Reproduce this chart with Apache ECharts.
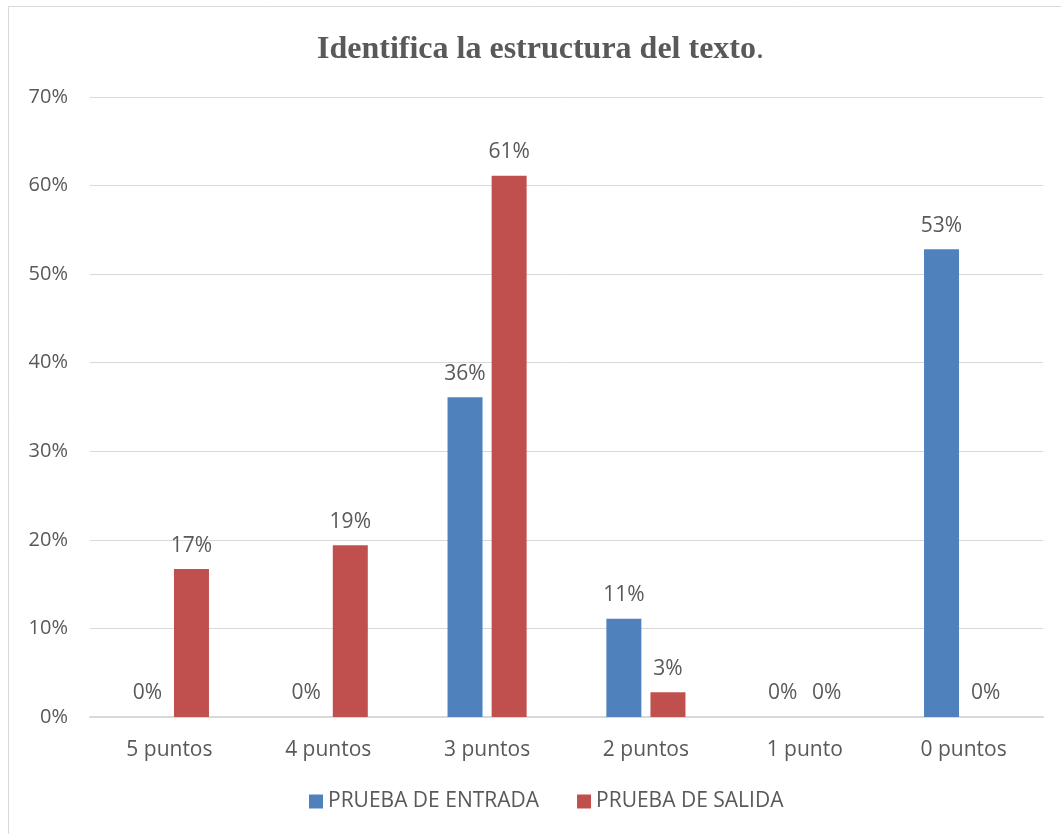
<!DOCTYPE html>
<html>
<head>
    <meta charset="UTF-8">
    <title>Identifica la estructura del texto</title>
    <script src="https://cdn.jsdelivr.net/npm/echarts@6/dist/echarts.min.js"></script>
    <style>
        body { margin: 0; background: #fff; }
    </style>
</head>
<body>
    <div id="main" style="width: 1061px;height:834px;"></div>
    <script type="text/javascript">
        // categorías y valores (%)
        var categorias = ['5 puntos', '4 puntos', '3 puntos', '2 puntos', '1 punto', '0 puntos'];
        var entrada = [0, 0, 36.1, 11.1, 0, 52.8];
        var salida = [16.7, 19.4, 61.1, 2.8, 0, 0];
        var nombres = ['PRUEBA DE ENTRADA', 'PRUEBA DE SALIDA'];

        var myChart = echarts.init(document.getElementById('main'));
        var textColor = '#595959';
        var fuente = '"Open Sans", "Noto Sans", sans-serif';
        var serif = '"Liberation Serif", "DejaVu Serif", serif';

        var etiqueta = {
            show: true,
            position: 'top',
            distance: 13,
            color: textColor,
            fontSize: 21,
            fontFamily: fuente,
            formatter: function (p) { return Math.round(p.value) + '%'; }
        };

        var option = {
            animation: false,
            title: {
                text: '{b|Identifica la estructura del texto}{n|.}',
                left: 312,
                top: 29,
                textStyle: {
                    rich: {
                        b: { fontFamily: serif, fontWeight: 'bold', fontSize: 32, color: textColor },
                        n: { fontFamily: serif, fontWeight: 'normal', fontSize: 32, color: textColor }
                    }
                }
            },
            graphic: [{
                type: 'rect',
                shape: { x: 8.5, y: 6.5, width: 1070, height: 840 },
                style: { fill: 'none', stroke: '#d9d9d9', lineWidth: 1 }
            }],
            legend: {
                bottom: 17,
                left: 304,
                itemWidth: 14,
                itemHeight: 14,
                itemGap: 38,
                icon: 'rect',
                textStyle: { color: textColor, fontSize: 21, fontFamily: fuente }
            },
            grid: { left: 90, right: 18, top: 97, bottom: 117 },
            xAxis: {
                type: 'category',
                data: categorias,
                axisLine: { lineStyle: { color: '#d9d9d9', width: 2 } },
                axisTick: { show: false },
                axisLabel: { color: textColor, fontSize: 21, fontFamily: fuente, margin: 23 }
            },
            yAxis: {
                type: 'value',
                min: 0,
                max: 70,
                interval: 10,
                axisLabel: {
                    formatter: '{value}%',
                    color: textColor,
                    fontSize: 20,
                    fontFamily: fuente,
                    margin: 22
                },
                splitLine: { lineStyle: { color: '#d9d9d9', width: 1 } }
            },
            series: [
                {
                    name: nombres[0],
                    type: 'bar',
                    data: entrada,
                    barWidth: 35,
                    barGap: '26%',
                    itemStyle: { color: '#4F81BD' },
                    label: etiqueta
                },
                {
                    name: nombres[1],
                    type: 'bar',
                    data: salida,
                    barWidth: 35,
                    itemStyle: { color: '#C0504D' },
                    label: etiqueta
                }
            ]
        };

        myChart.setOption(option);
    </script>
</body>
</html>
